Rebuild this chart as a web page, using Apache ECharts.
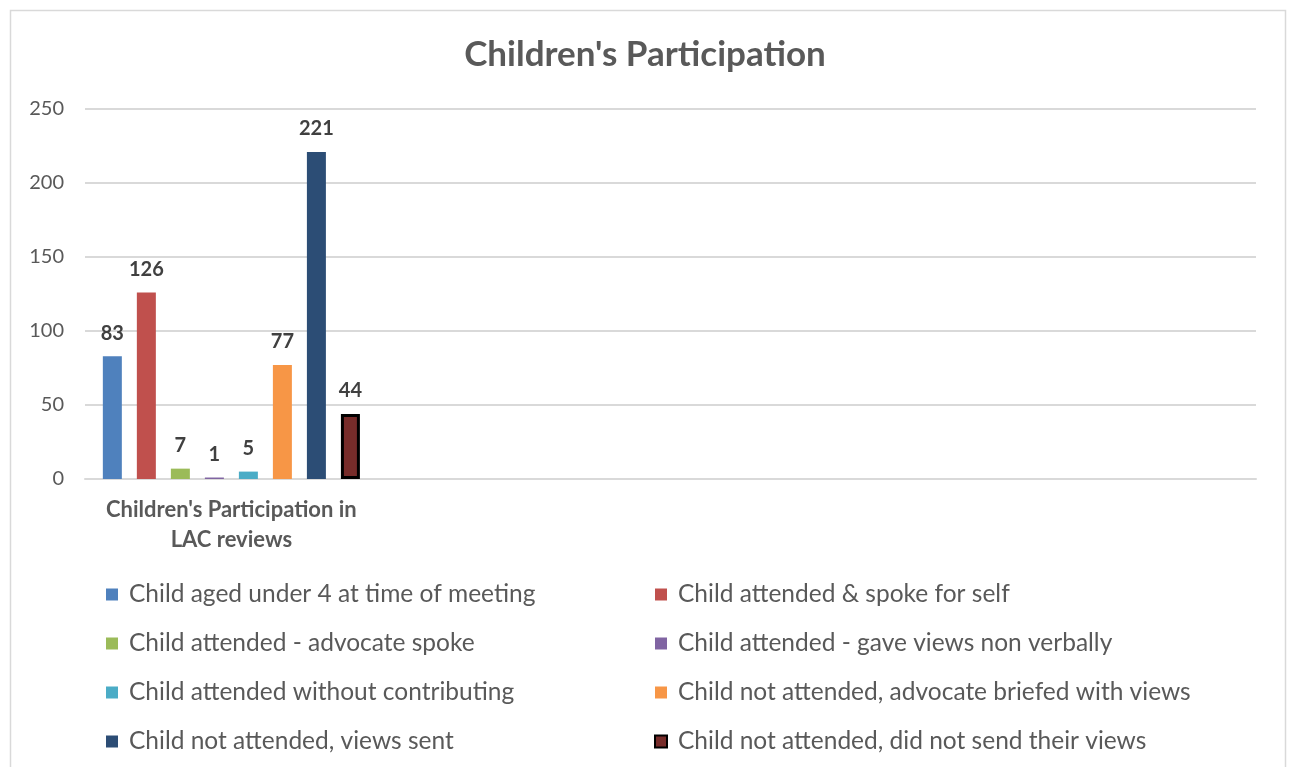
<!DOCTYPE html>
<html>
<head>
<meta charset="utf-8">
<title>Children's Participation</title>
<script src="https://cdn.jsdelivr.net/npm/echarts@6/dist/echarts.min.js"></script>
<style>
  html, body { margin: 0; padding: 0; background: #ffffff; }
  #chart { width: 1290px; height: 767px; }
</style>
</head>
<body>
<div id="chart"></div>
<script>
// Category slots on the x axis (only the first one holds data)
const categories = ["Children's Participation in\nLAC reviews", "", "", ""];

// One series per participation outcome
const seriesNames = [
  "Child aged under 4 at time of meeting",
  "Child attended & spoke for self",
  "Child attended - advocate spoke",
  "Child attended - gave views non verbally",
  "Child attended without contributing",
  "Child not attended, advocate briefed with views",
  "Child not attended, views sent",
  "Child not attended, did not send their views"
];
const seriesValues = [83, 126, 7, 1, 5, 77, 221, 44];
const seriesColors = ["#4F81BD", "#C0504D", "#9BBB59", "#8064A2", "#4BACC6", "#F79646", "#2C4D75", "#772C2A"];

const yTicks = { min: 0, max: 250, interval: 50 };

const FONT = "Lato, 'Open Sans', sans-serif";

const series = seriesNames.map((name, i) => ({
  name: name,
  type: 'bar',
  data: [seriesValues[i], null, null, null],
  barWidth: 19,
  barGap: '79%',
  itemStyle: i === 7
    ? { color: seriesColors[i], borderColor: '#000000', borderWidth: 3 }
    : { color: seriesColors[i] },
  label: {
    show: true,
    position: 'top',
    distance: 13,
    fontFamily: FONT,
    fontSize: 20,
    fontWeight: 'bold',
    color: '#404040'
  }
}));

const legendText = { fontFamily: FONT, fontSize: 24.5, color: '#595959', padding: [0, 0, 0, 6] };

const chart = echarts.init(document.getElementById('chart'), null, { renderer: 'canvas' });
chart.setOption({
  backgroundColor: '#ffffff',
  animation: false,
  title: {
    text: "Children's Participation",
    left: 'center',
    top: 37,
    padding: 0,
    textStyle: { fontFamily: FONT, fontSize: 35, fontWeight: 'bold', color: '#595959' }
  },
  graphic: [{
    type: 'rect',
    shape: { x: 10.5, y: 10.5, width: 1275, height: 780 },
    style: { fill: 'none', stroke: '#D9D9D9', lineWidth: 1.5 },
    silent: true
  }],
  grid: { left: 85, right: 34, top: 109, bottom: 288, containLabel: false },
  legend: [
    {
      orient: 'vertical', left: 106, top: 582, itemGap: 24, padding: 0,
      itemWidth: 12, itemHeight: 12, icon: 'rect',
      data: [seriesNames[0], seriesNames[2], seriesNames[4], seriesNames[6]],
      textStyle: legendText
    },
    {
      orient: 'vertical', left: 654, top: 582, itemGap: 24, padding: 0,
      itemWidth: 12, itemHeight: 12, icon: 'rect',
      data: [seriesNames[1], seriesNames[3], seriesNames[5], seriesNames[7]],
      textStyle: legendText
    }
  ],
  xAxis: {
    type: 'category',
    data: categories,
    axisLine: { lineStyle: { color: '#D9D9D9', width: 2 } },
    axisTick: { show: false },
    axisLabel: {
      interval: 0,
      margin: 16,
      fontFamily: FONT,
      fontSize: 22,
      fontWeight: 'bold',
      color: '#595959',
      lineHeight: 30
    }
  },
  yAxis: {
    type: 'value',
    min: yTicks.min,
    max: yTicks.max,
    interval: yTicks.interval,
    axisLine: { show: false },
    axisTick: { show: false },
    splitLine: { lineStyle: { color: '#D9D9D9', width: 2 } },
    axisLabel: { fontFamily: FONT, fontSize: 20, color: '#595959', margin: 21 }
  },
  series: series
});
</script>
</body>
</html>
